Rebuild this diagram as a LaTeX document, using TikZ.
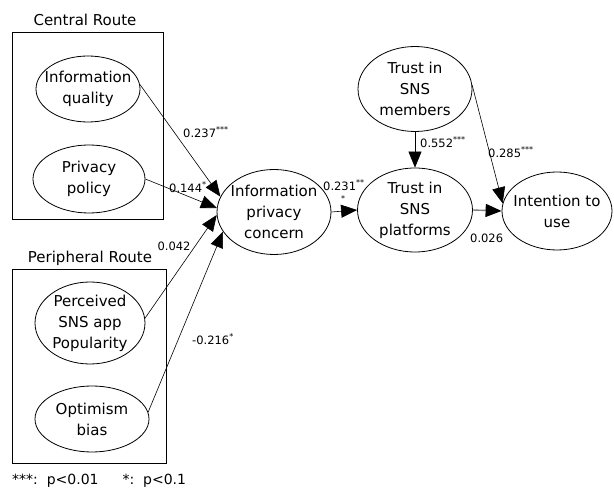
\documentclass[tikz,border=0pt]{standalone}
\usepackage{fontspec}
\setmainfont{DejaVu Sans}
\usetikzlibrary{arrows.meta, shapes.geometric}

\begin{document}
\begin{tikzpicture}[x=1pt, y=-1pt,
  construct/.style={draw, ellipse, line width=0.8pt, inner xsep=-8pt, inner ysep=0pt, align=center, font=\fontsize{15}{21}\selectfont},
  link/.style={-{Triangle[length=16pt,width=13pt,color=black]}, line width=0.6pt},
  coef/.style={font=\fontsize{11.5}{13}\selectfont, inner sep=0pt, anchor=west, align=left},
  routebox/.style={draw, line width=0.8pt},
  heading/.style={font=\fontsize{15}{18}\selectfont, inner sep=0pt}]
\useasboundingbox (0,0) rectangle (614,497);
% Route boxes
\draw[routebox] (12,32) rectangle (163,219);
\draw[routebox] (12,269) rectangle (166,463);
\node[heading] (central) at (85,20) {Central Route};
\node[heading] (peripheral) at (90,258) {Peripheral Route};
% Antecedents
\node[construct, minimum width=104pt, minimum height=66pt] (iq) at (88,89) {Information\\quality};
\node[construct, minimum width=112pt, minimum height=68pt] (pp) at (89,179) {Privacy\\policy};
\node[construct, minimum width=110pt, minimum height=82pt] (pop) at (90,323) {Perceived\\SNS app\\Popularity};
\node[construct, minimum width=114pt, minimum height=66pt] (opt) at (92,419) {Optimism\\bias};
% Mediators and outcome
\node[construct, minimum width=114pt, minimum height=85pt] (ipc) at (274,212) {Information\\privacy\\concern};
\node[construct, minimum width=114pt, minimum height=85pt] (tsm) at (415,89) {Trust in\\SNS\\members};
\node[construct, minimum width=115pt, minimum height=84pt] (tsp) at (415,210) {Trust in\\SNS\\platforms};
\node[construct, minimum width=110pt, minimum height=78pt] (itu) at (557,211) {Intention to\\use};
% Paths into privacy concern
\draw[link] (iq.5) -- (ipc.164);
\draw[link] (pp.east) -- (ipc.176);
\draw[link] (pop.5) -- (ipc.183);
\draw[link] (opt.7) -- (ipc.201);
% Paths to trust and intention
\draw[link] (ipc.east) -- (tsp.west);
\draw[link] (tsm.south) -- (tsp.north);
\draw[link] (tsm.4) -- (itu.172);
\draw[link, draw=gray, line width=1.4pt] (tsp.east) -- (itu.west);
% Coefficients
\node[coef] (c237) at (183,132) {0.237\textsuperscript{***}};
\node[coef] (c144) at (169,187) {0.144\textsuperscript{*}};
\node[coef, anchor=center] (c042) at (174,246) {0.042};
\node[coef] (c216) at (192,339) {-0.216\textsuperscript{*}};
\node[coef] (c231) at (323,185) {0.231\textsuperscript{**}};
\node[coef, font=\fontsize{8}{9}\selectfont] (c231s) at (341,199) {*};
\node[coef] (c552) at (420,142) {0.552\textsuperscript{***}};
\node[coef] (c285) at (488,152) {0.285\textsuperscript{***}};
\node[coef] (c026) at (470,238) {0.026};
% Legend
\node[anchor=west, inner sep=0pt, font=\fontsize{14}{16}\selectfont] (legend) at (12,481) {***:\ \ p<0.01\hspace{24pt}*:\ \ p<0.1};
\end{tikzpicture}
\end{document}
